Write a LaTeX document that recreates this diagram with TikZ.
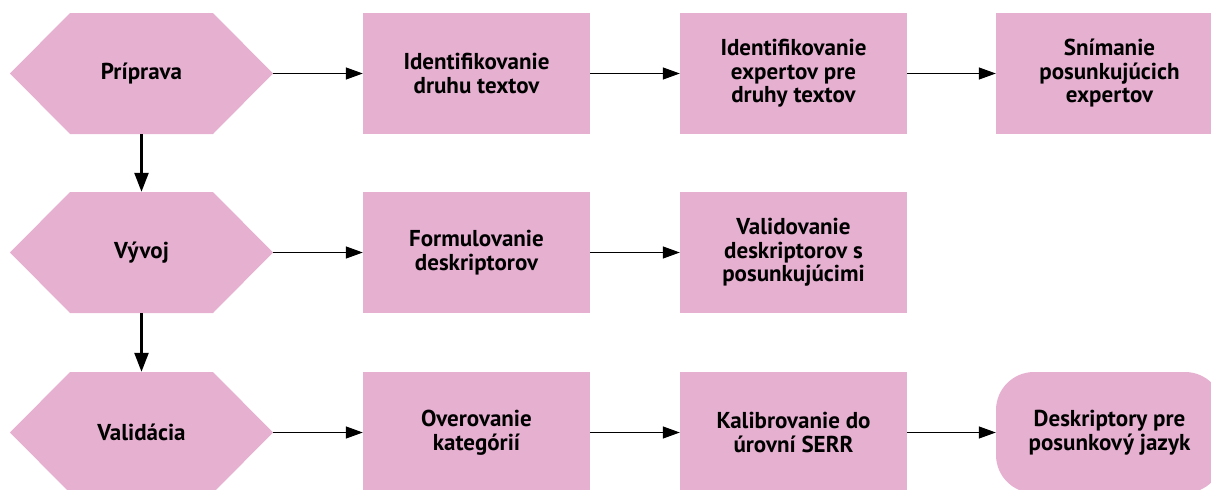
\documentclass[tikz,border=0pt]{standalone}
\usepackage{fontspec}
\setmainfont{PT Sans}
\usetikzlibrary{arrows.meta}
\definecolor{stepfill}{HTML}{E6B0D1}
\begin{document}
\begin{tikzpicture}[x=1pt,y=-1pt,
  every node/.style={font=\bfseries\fontsize{23}{23.5}\selectfont, align=center, inner sep=0pt},
  hexa/.style={minimum width=263pt, minimum height=121pt,
    path picture={\fill[stepfill]
      (path picture bounding box.west)
      -- ([xshift=60pt]path picture bounding box.north west)
      -- ([xshift=-60pt]path picture bounding box.north east)
      -- (path picture bounding box.east)
      -- ([xshift=-60pt]path picture bounding box.south east)
      -- ([xshift=60pt]path picture bounding box.south west) -- cycle;}},
  stepbox/.style={fill=stepfill, minimum width=227pt, minimum height=121pt},
  endbox/.style={stepbox, rounded corners=38pt},
  harrow/.style={-{Triangle[length=17pt,width=12pt]}, line width=1.3pt},
  varrow/.style={-{Triangle[length=19pt,width=14pt]}, line width=2.4pt}]
\useasboundingbox (0,0) rectangle (1211,490);

% phases
\node[hexa] (prip) at (141.5,73.5) {Príprava};
\node[hexa] (vyv)  at (141.5,252.5) {Vývoj};
\node[hexa] (val)  at (141.5,432.5) {Validácia};

% row 1
\node[stepbox] (a1) at (476.5,73.5) {Identifikovanie\\druhu textov};
\node[stepbox] (a2) at (793.5,73.5) {Identifikovanie\\expertov pre\\druhy textov};
\node[stepbox] (a3) at (1109.5,73.5) {Snímanie\\posunkujúcich\\expertov};

% row 2
\node[stepbox] (b1) at (476.5,252.5) {Formulovanie\\deskriptorov};
\node[stepbox] (b2) at (793.5,252.5) {Validovanie\\deskriptorov s\\posunkujúcimi};

% row 3
\node[stepbox] (c1) at (476.5,432.5) {Overovanie\\kategórií};
\node[stepbox] (c2) at (793.5,432.5) {Kalibrovanie do\\úrovní SERR};
\node[endbox]  (c3) at (1109.5,432.5) {Deskriptory pre\\posunkový jazyk};

% connectors
\draw[harrow] (prip.east) -- (a1.west);
\draw[harrow] (a1.east) -- (a2.west);
\draw[harrow] (a2.east) -- (a3.west);
\draw[harrow] (vyv.east) -- (b1.west);
\draw[harrow] (b1.east) -- (b2.west);
\draw[harrow] (val.east) -- (c1.west);
\draw[harrow] (c1.east) -- (c2.west);
\draw[harrow] (c2.east) -- (c3.west);
\draw[varrow] (prip.south) -- (vyv.north);
\draw[varrow] (vyv.south) -- (val.north);
\end{tikzpicture}
\end{document}
